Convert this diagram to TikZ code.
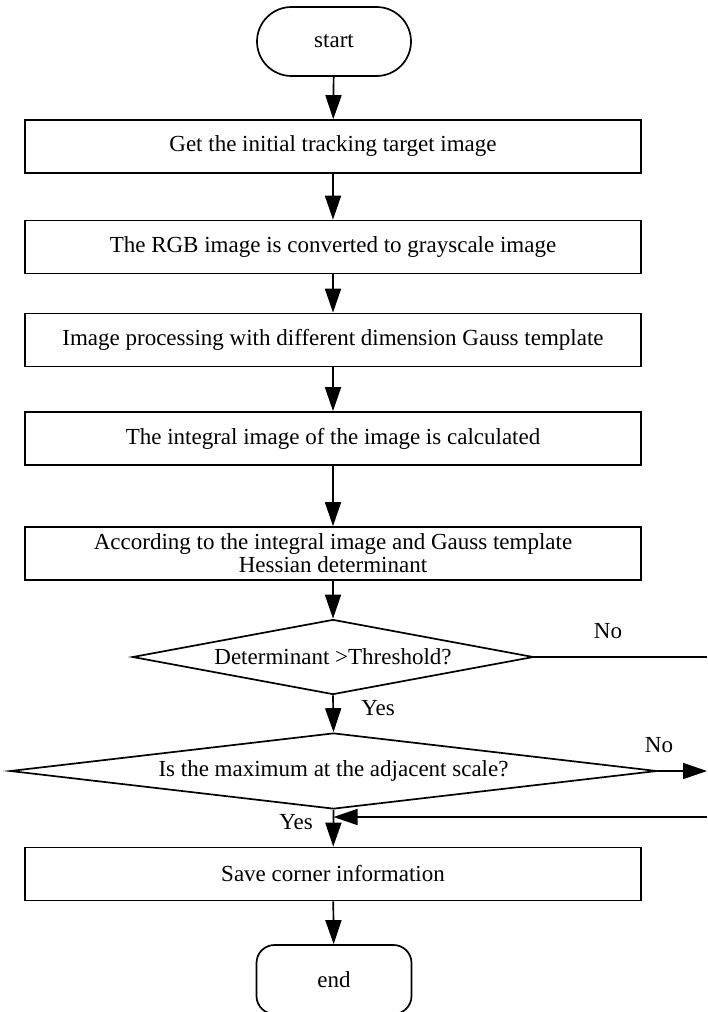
\documentclass[tikz,border=0pt]{standalone}
\usepackage{fontspec}
\setmainfont{Liberation Serif}
\usetikzlibrary{arrows.meta,shapes.geometric,shapes.misc}
\begin{document}
\begin{tikzpicture}[x=1pt,y=-1pt,
  every node/.style={font=\fontsize{23}{23}\selectfont},
  procbox/.style={draw, rectangle, line width=1.7pt, minimum width=616pt, minimum height=53pt, inner sep=0pt, align=center},
  startterm/.style={draw, rounded rectangle, line width=1.7pt, minimum width=154pt, minimum height=69pt, inner sep=0pt},
  endterm/.style={draw, rectangle, rounded corners=18pt, line width=1.7pt, minimum width=155pt, minimum height=69pt, inner sep=0pt},
  decision/.style={draw, diamond, line width=1.7pt, inner sep=0pt},
  arr/.style={line width=1.7pt, -{Triangle[length=24pt,width=16pt]}},
  plainline/.style={line width=1.7pt}]
\useasboundingbox (0,0) rectangle (707,1012);

\node[startterm] (start) at (334,41.5) {start};
\node[procbox] (b1) at (333,146.5) {Get the initial tracking target image};
\node[procbox] (b2) at (333,247) {The RGB image is converted to grayscale image};
\node[procbox] (b3) at (333,340) {Image processing with different dimension Gauss template};
\node[procbox] (b4) at (333,438.5) {The integral image of the image is calculated};
\node[procbox] (b5) at (333,553.5) {According to the integral image and Gauss template\\Hessian determinant};
\node[decision, minimum width=401pt, minimum height=75pt, shape aspect=5.3] (d1) at (333,657) {Determinant >Threshold?};
\node[decision, minimum width=647pt, minimum height=76pt, shape aspect=8.5] (d2) at (333.5,771) {Is the maximum at the adjacent scale?};
\node[procbox] (b6) at (333,874) {Save corner information};
\node[endterm] (end) at (334,979.5) {end};

\coordinate (edgeA) at (707,657);
\coordinate (edgeB) at (707,771);
\coordinate (edgeC) at (707,817);

\draw[arr] (start) -- (b1);
\draw[arr] (b1) -- (b2);
\draw[arr] (b2) -- (b3);
\draw[arr] (b3) -- (b4);
\draw[arr] (b4) -- (b5);
\draw[arr] (b5) -- (d1);
\draw[arr] (d1.south) -- (d2.north);
\draw[arr] (d2.south) -- (b6);
\draw[arr] (b6) -- (end);

\draw[plainline] (d1.east) -- (edgeA);
\draw[arr] (d2.east) -- (edgeB);
\draw[arr] (edgeC) -- (edgeC -| d2.south);

\node (no1) at (608,631) {No};
\node (no2) at (659,745) {No};
\node (yes1) at (378,708) {Yes};
\node (yes2) at (296,822) {Yes};
\end{tikzpicture}
\end{document}
